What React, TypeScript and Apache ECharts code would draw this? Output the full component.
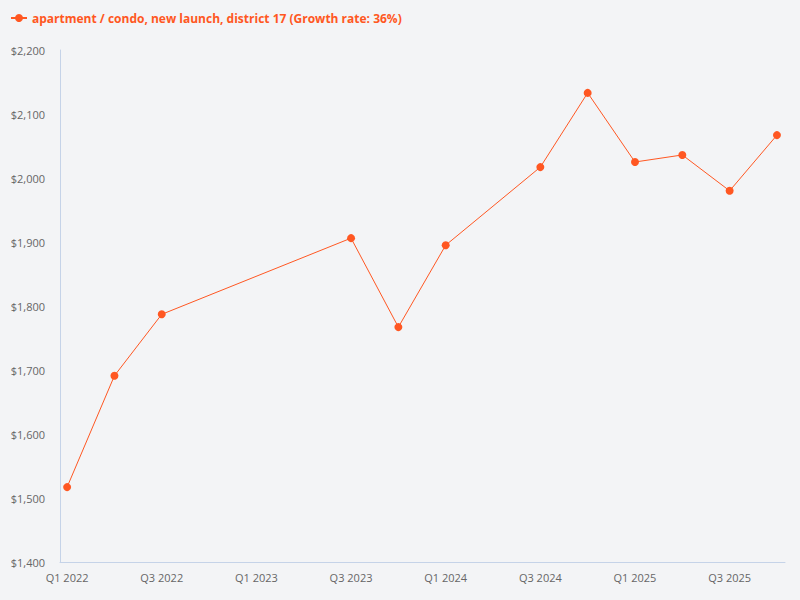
import React, { useEffect, useRef } from "react";
import * as echarts from "echarts";

const quarters = [
  "Q1 2022", "Q2 2022", "Q3 2022", "Q4 2022",
  "Q1 2023", "Q2 2023", "Q3 2023", "Q4 2023",
  "Q1 2024", "Q2 2024", "Q3 2024", "Q4 2024",
  "Q1 2025", "Q2 2025", "Q3 2025", "Q4 2025",
];
const prices: (number | null)[] = [
  1517, 1691, 1787, null,
  null, null, 1906, 1767,
  1895, null, 2017, 2133,
  2025, 2036, 1980, 2067,
];
const labelIndices = [0, 2, 4, 6, 8, 10, 12, 14];
const seriesName = "apartment / condo, new launch, district 17 (Growth rate: 36%)";

export default function App() {
  const ref = useRef<HTMLDivElement>(null);
  useEffect(() => {
    if (!ref.current) return;
    const chart = echarts.init(ref.current, undefined, { renderer: "svg" });
    const data = prices
      .map((v, i) => (v === null ? null : [i, v]))
      .filter((d) => d !== null);
    chart.setOption({
      animation: false,
      backgroundColor: "#f3f4f6",
      textStyle: { fontFamily: "Open Sans" },
      legend: {
        left: 5,
        top: 7,
        itemWidth: 16,
        itemHeight: 10,
        itemGap: 5,
        textStyle: { color: "#ff5722", fontWeight: "bold", fontSize: 12, fontFamily: "Open Sans" },
        data: [seriesName],
      },
      grid: { left: 60, right: 15, top: 50, bottom: 38, containLabel: false },
      xAxis: {
        type: "value",
        min: -0.15,
        max: 15.17,
        splitLine: { show: false },
        axisTick: { show: false },
        axisLine: { show: true, onZero: false, lineStyle: { color: "#c5d3e8" } },
        axisLabel: {
          customValues: labelIndices,
          formatter: (v: number) => quarters[Math.round(v)] ?? "",
          color: "#666",
          fontSize: 11,
          margin: 10,
        },
      },
      yAxis: {
        type: "value",
        min: 1400,
        max: 2200,
        interval: 100,
        splitLine: { show: false },
        axisTick: { show: false },
        axisLine: { show: true, onZero: false, lineStyle: { color: "#c5d3e8" } },
        axisLabel: {
          color: "#666",
          fontSize: 11,
          margin: 15,
          formatter: (v: number) => "$" + v.toLocaleString("en-US"),
        },
      },
      series: [
        {
          name: seriesName,
          type: "line",
          data,
          color: "#ff5722",
          symbol: "circle",
          symbolSize: 8,
          lineStyle: { width: 1, color: "#ff5722" },
          itemStyle: { color: "#ff5722" },
        },
      ],
    });
    return () => chart.dispose();
  }, []);
  return <div ref={ref} style={{ width: 800, height: 600, position: "absolute", left: 0, top: 0 }} />;
}
